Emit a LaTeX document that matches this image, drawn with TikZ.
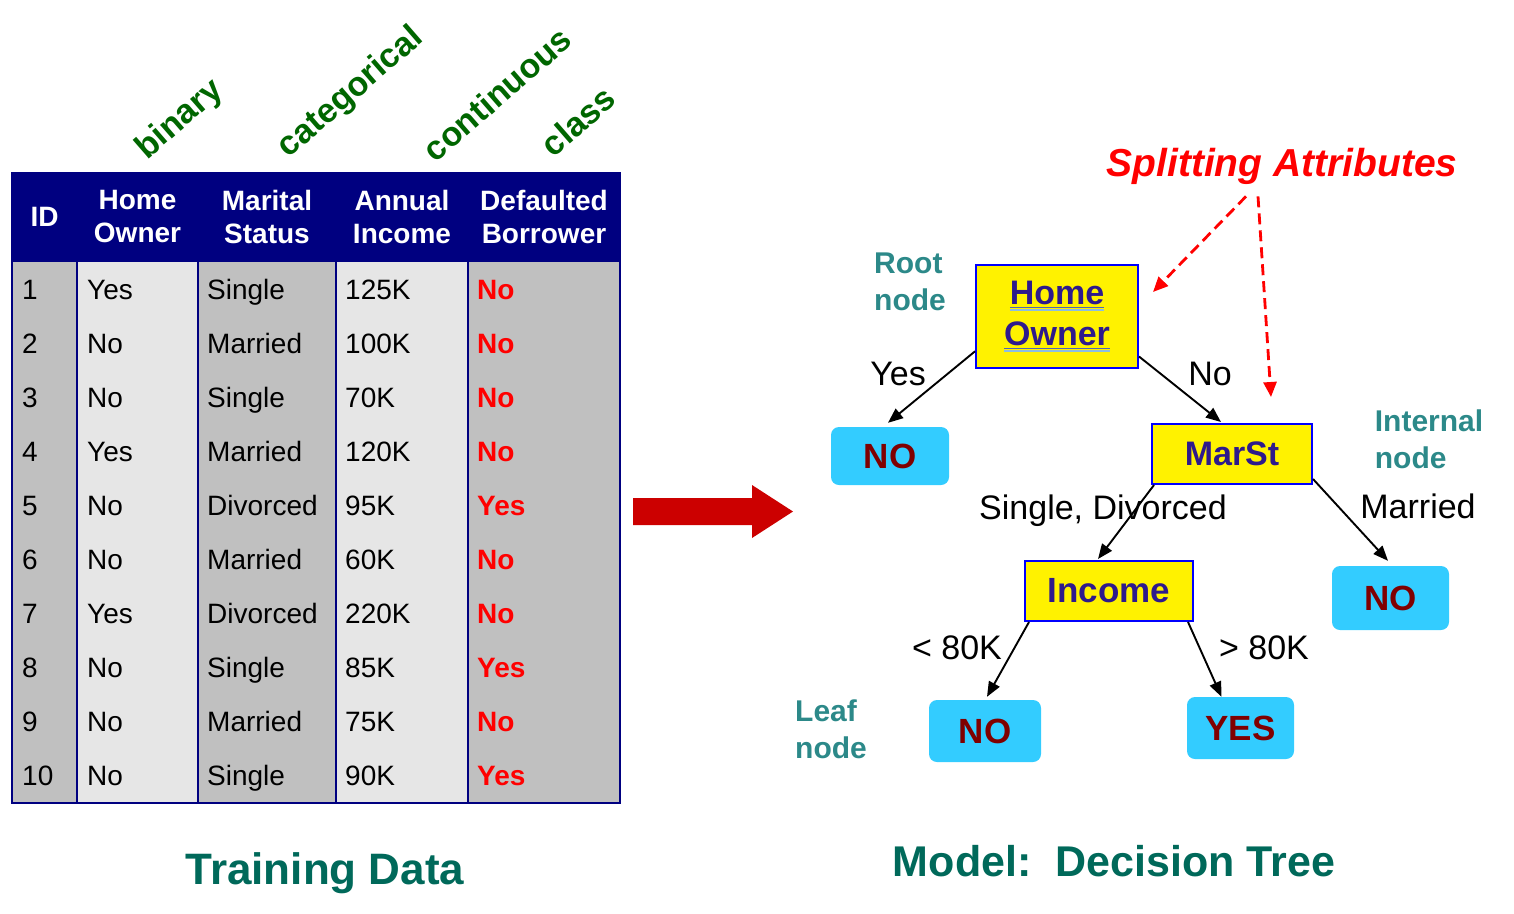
\documentclass[tikz,border=0pt]{standalone}
\usepackage{fontspec}
\setmainfont{Liberation Sans}
\usetikzlibrary{arrows.meta,calc}
\definecolor{navy}{RGB}{0,0,128}
\definecolor{colgray}{RGB}{192,192,192}
\definecolor{collight}{RGB}{230,230,230}
\definecolor{lblgreen}{RGB}{0,102,0}
\definecolor{titleteal}{RGB}{0,105,90}
\definecolor{nodeteal}{RGB}{44,137,137}
\definecolor{attrblue}{RGB}{0,0,255}
\definecolor{treepurple}{RGB}{46,26,140}
\definecolor{leafblue}{RGB}{51,204,255}
\definecolor{leafred}{RGB}{128,0,0}
\definecolor{bigred}{RGB}{204,0,0}
\definecolor{ulA}{RGB}{80,100,185}
\definecolor{ulB}{RGB}{140,190,225}
\newcommand\fsz[1]{\fontsize{#1}{#1}\selectfont}
\newcommand\dulbox[1]{\setbox0=\hbox{#1}\leavevmode\rlap{\color{ulA}\rule[-3.5pt]{\wd0}{1.4pt}}\rlap{\color{ulB}\rule[-5.8pt]{\wd0}{1.4pt}}\box0}
\begin{document}
\begin{tikzpicture}[x=1pt,y=-1pt,
  hdr/.style={text=white,font=\fontsize{28}{33}\selectfont\bfseries,align=center,inner sep=0},
  cell/.style={text=black,font=\fsz{28},inner sep=0,anchor=base west},
  clscell/.style={text=red,font=\fsz{28}\bfseries,inner sep=0,anchor=base west},
  typelbl/.style={text=lblgreen,font=\fsz{34}\bfseries,rotate=41,inner sep=0},
  attr/.style={draw=attrblue,line width=2pt,fill=yellow,text=treepurple,inner sep=0,align=center},
  leaf/.style={fill=leafblue,rounded corners=8pt,text=leafred,font=\fsz{35}\bfseries,inner sep=0},
  elbl/.style={text=black,font=\fsz{34},inner sep=0},
  kindlbl/.style={text=nodeteal,font=\fontsize{30}{37}\selectfont\bfseries,align=left,inner sep=0},
  title/.style={text=titleteal,inner sep=0,anchor=base},
  treeedge/.style={draw=black,line width=1.9pt,-{Triangle[length=15pt,width=12pt]}},
  splitarrow/.style={draw=red,line width=2.8pt,dash pattern=on 11pt off 6pt,-{Triangle[length=15pt,width=13pt]}}
]
\useasboundingbox (0,0) rectangle (1514,913);
% ---------- table ----------
\fill[navy] (12,173) rectangle (620,262);
\fill[colgray] (12,262) rectangle (77,803);
\fill[collight] (77,262) rectangle (198,803);
\fill[colgray] (198,262) rectangle (336,803);
\fill[collight] (336,262) rectangle (468,803);
\fill[colgray] (468,262) rectangle (620,803);
\draw[navy,line width=1.2pt] (12,173) rectangle (620,803);
\foreach \xx in {77,198,336,468} \draw[navy,line width=1.2pt] (\xx,262) -- (\xx,803);
\node[hdr] (hid) at (44.5,217) {ID};
\node[hdr] (hho) at (137.5,217) {Home\\Owner};
\node[hdr] (hms) at (267,217) {Marital\\Status};
\node[hdr] (hai) at (402,217) {Annual\\Income};
\node[hdr] (hdb) at (544,217) {Defaulted\\Borrower};
\foreach \i/\ho/\ms/\ai/\cl in {1/Yes/Single/125K/No, 2/No/Married/100K/No, 3/No/Single/70K/No, 4/Yes/Married/120K/No, 5/No/Divorced/95K/Yes, 6/No/Married/60K/No, 7/Yes/Divorced/220K/No, 8/No/Single/85K/Yes, 9/No/Married/75K/No, 10/No/Single/90K/Yes}{
  \pgfmathsetmacro\yb{262+54.1*(\i-0.5)+10}
  \node[cell] (id\i) at (22,\yb) {\i};
  \node[cell] (ho\i) at (87,\yb) {\ho};
  \node[cell] (ms\i) at (207,\yb) {\ms};
  \node[cell] (ai\i) at (345,\yb) {\ai};
  \node[clscell] (cl\i) at (477,\yb) {\cl};
}
% ---------- column type labels ----------
\node[typelbl] (lbin) at (180,120) {binary};
\node[typelbl] (lcat) at (351,93) {categorical};
\node[typelbl] (lcon) at (497,94) {continuous};
\node[typelbl] (lcls) at (578,121) {class};
% ---------- big arrow ----------
\fill[bigred] (633,498) -- (752,498) -- (752,485) -- (793,511.5) -- (752,538) -- (752,525) -- (633,525) -- cycle;
% ---------- tree ----------
\node[attr,minimum width=162pt,minimum height=103pt,font=\fontsize{34}{41}\selectfont\bfseries] (ho) at (1057,316.5) {\dulbox{Home}\\\dulbox{Owner}};
\node[attr,minimum width=160pt,minimum height=60pt,font=\fsz{34}\bfseries] (ms) at (1232,454) {MarSt};
\node[attr,minimum width=168pt,minimum height=60pt,font=\fsz{35}\bfseries] (inc) at (1109,591) {Income};
\node[leaf,minimum width=118pt,minimum height=58pt] (no1) at (890,456) {NO};
\node[leaf,minimum width=117pt,minimum height=64pt] (no2) at (1390.5,598) {NO};
\node[leaf,minimum width=112pt,minimum height=62pt] (no3) at (985,731) {NO};
\node[leaf,minimum width=107pt,minimum height=62pt] (yes) at (1240.5,728) {YES};
\draw[treeedge] (ho.203) -- ($(no1.north)+(-2,-4)$);
\draw[treeedge] (ho.334) -- ($(ms.north)+(-11,-1)$);
\draw[treeedge] ($(ms.south west)+(3,0)$) -- ($(inc.north)+(-11,-1)$);
\draw[treeedge] ($(ms.south east)+(0,-6)$) -- ($(no2.north)+(-2.5,-5)$);
\draw[treeedge] ($(inc.south west)+(5,0)$) -- ($(no3.north)+(2,-3)$);
\draw[treeedge] ($(inc.south east)+(-6,0)$) -- ($(yes.north)+(-19,0)$);
\node[elbl] (lyes) at (898,374) {Yes};
\node[elbl] (lno) at (1210,374) {No};
\node[elbl] (lsd) at (1103,511) {Single, Divorced};
\node[elbl] (lmar) at (1418,506) {Married};
\node[elbl] (llt) at (957,648) {< 80K};
\node[elbl] (lgt) at (1264,648) {> 80K};
\node[kindlbl] (lroot) at (910,282) {Root\\node};
\node[kindlbl] (lint) at (1429,439) {Internal\\node};
\node[kindlbl] (lleaf) at (831,729) {Leaf\\node};
% ---------- splitting attributes ----------
\node[text=red,font=\fsz{39}\bfseries\itshape,inner sep=0] (sa) at (1282,166) {Splitting Attributes};
\coordinate (t1) at (1153,292);
\coordinate (t2) at (1271,397);
\draw[splitarrow] ($(sa.south)+(-36,12)$) -- (t1);
\draw[splitarrow] ($(sa.south)+(-24,12)$) -- (t2);
% ---------- titles ----------
\node[title,font=\fsz{44}\bfseries] (ttrain) at (325,884) {Training Data};
\node[title,font=\fsz{43}\bfseries] (tmodel) at (1114,876) {Model:\ \ Decision Tree};
\end{tikzpicture}
\end{document}
